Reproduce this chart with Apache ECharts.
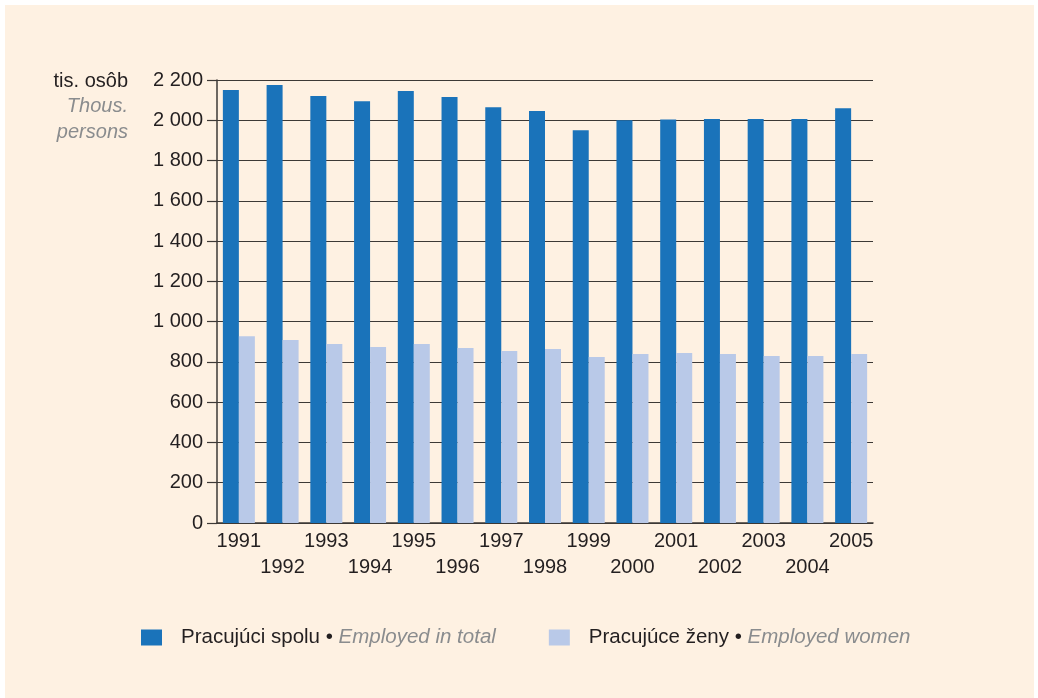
<!DOCTYPE html>
<html>
<head>
<meta charset="utf-8">
<script src="https://cdn.jsdelivr.net/npm/echarts@6/dist/echarts.min.js"></script>
<style>
  html, body { margin: 0; padding: 0; background: #ffffff; }
  #chart { width: 1038px; height: 698px; }
</style>
</head>
<body>
<div id="chart"></div>
<script>
// data (thousands of persons)
var years = ['1991', '1992', '1993', '1994', '1995', '1996', '1997', '1998',
             '1999', '2000', '2001', '2002', '2003', '2004', '2005'];
var employedTotal = [2150, 2175, 2120, 2095, 2145, 2115, 2065, 2046,
                     1951, 2000, 2004, 2006, 2006, 2006, 2060];
var employedWomen = [928, 909, 889, 874, 889, 869, 854, 864,
                     824, 839, 844, 839, 829, 829, 839];
var yTicks = { min: 0, max: 2200, interval: 200 };

var FONT = '"Liberation Sans", Arial, sans-serif';
var DARK = '#231f20';
var GREY = '#8a8c8e';
var LINE = '#3d3936';

function fmtThousands(v) {
  if (v < 1000) return String(v);
  var rest = String(v % 1000);
  while (rest.length < 3) rest = '0' + rest;
  return Math.floor(v / 1000) + ' ' + rest;
}

var chart = echarts.init(document.getElementById('chart'), null, { renderer: 'canvas' });

var option = {
  backgroundColor: '#ffffff',
  animation: false,
  textStyle: { fontFamily: FONT },
  graphic: [
    {
      type: 'rect', z: -10, silent: true,
      shape: { x: 5, y: 5, width: 1029, height: 693 },
      style: { fill: '#fef1e2' }
    },
    {
      type: 'text', right: 910, top: 71,
      style: { text: 'tis. osôb', font: '20px ' + FONT, fill: DARK, textAlign: 'right' }
    },
    {
      type: 'text', right: 910, top: 96,
      style: { text: 'Thous.', font: 'italic 20px ' + FONT, fill: GREY, textAlign: 'right' }
    },
    {
      type: 'text', right: 910, top: 122,
      style: { text: 'persons', font: 'italic 20px ' + FONT, fill: GREY, textAlign: 'right' }
    }
  ],
  grid: { left: 217, right: 165, top: 80, bottom: 175, containLabel: false },
  legend: {
    left: 141,
    top: 627,
    padding: 0,
    itemWidth: 21,
    itemHeight: 16,
    itemGap: 53,
    icon: 'rect',
    data: ['Pracujúci spolu', 'Pracujúce ženy'],
    formatter: function (name) {
      var en = name === 'Pracujúci spolu' ? 'Employed in total' : 'Employed women';
      return '{a|' + name + ' • }{b|' + en + '}';
    },
    textStyle: {
      padding: [0, 0, 0, 14],
      rich: {
        a: { fontFamily: FONT, fontSize: 20.5, color: DARK },
        b: { fontFamily: FONT, fontSize: 20.5, color: GREY, fontStyle: 'italic' }
      }
    }
  },
  xAxis: {
    type: 'category',
    data: years,
    axisLine: { show: true, lineStyle: { color: LINE, width: 1.5 } },
    axisTick: { show: false },
    axisLabel: {
      interval: 0,
      margin: 5,
      fontFamily: FONT,
      fontSize: 20,
      color: DARK,
      lineHeight: 26,
      formatter: function (v, i) { return i % 2 === 0 ? v : '\n' + v; }
    }
  },
  yAxis: {
    type: 'value',
    min: yTicks.min,
    max: yTicks.max,
    interval: yTicks.interval,
    axisLine: { show: true, lineStyle: { color: LINE, width: 1.5 } },
    axisTick: { show: true, length: 10, lineStyle: { color: LINE, width: 1.2 } },
    splitLine: { show: true, lineStyle: { color: LINE, width: 1.2 } },
    axisLabel: {
      margin: 14,
      fontFamily: FONT,
      fontSize: 20,
      color: DARK,
      formatter: fmtThousands
    }
  },
  series: [
    {
      name: 'Pracujúci spolu',
      type: 'bar',
      data: employedTotal,
      barWidth: 16,
      barGap: '0%',
      itemStyle: { color: '#1a73ba' }
    },
    {
      name: 'Pracujúce ženy',
      type: 'bar',
      data: employedWomen,
      barWidth: 16,
      itemStyle: { color: '#b9c9e8' }
    }
  ]
};

chart.setOption(option);
</script>
</body>
</html>
